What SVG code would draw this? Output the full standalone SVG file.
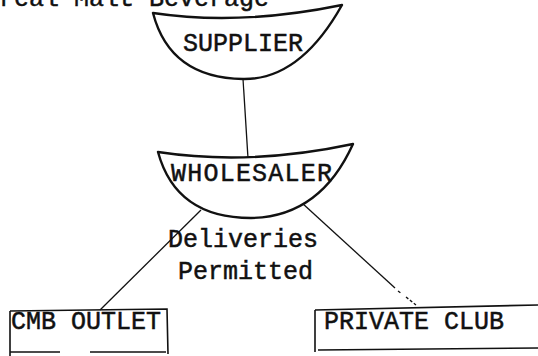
<svg xmlns="http://www.w3.org/2000/svg" width="538" height="356" viewBox="0 0 538 356">
<style>
.t{font-family:"Liberation Mono","Courier New","DejaVu Sans Mono",monospace;font-size:25px;fill:#111;stroke:#111;stroke-width:0.5}
.bowl{fill:#fff;stroke:#111;stroke-width:2.4;stroke-linejoin:round}
.box{fill:none;stroke:#111;stroke-width:1.6}
.ln{fill:none;stroke:#111;stroke-width:1.3}
</style>
<rect width="538" height="356" fill="#fff"/>
<text class="t" x="-1" y="6">real Malt Beverage</text>
<g id="connectors">
<line class="ln" x1="243" y1="79" x2="248" y2="158"/>
<line class="ln" x1="201" y1="210" x2="100" y2="310"/>
<path class="ln" d="M302 203 L395 288" />
<path class="ln" d="M398 291 L402 294 M406 297 L416 305" stroke-dasharray="3 2"/>
</g>
<g id="supplier">
<path class="bowl" d="M153 13 Q240 26 342 5 Q300 80 243 79 Q170 78 153 13 Z"/>
<text class="t" x="183" y="51">SUPPLIER</text>
</g>
<g id="wholesaler">
<path class="bowl" d="M158 152 Q250 166 353 144 Q320 217 251 218 Q176 218 158 152 Z"/>
<text class="t" x="171" y="181" textLength="161">WHOLESALER</text>
</g>
<g id="label">
<text class="t" x="168" y="247">Deliveries</text>
<text class="t" x="178" y="279">Permitted</text>
</g>
<g id="cmb">
<path class="box" d="M10 311 L167 309 L168 354 M10 311 L10 356 M10 352 L60 352 M90 352 L166 352"/>
<text class="t" x="11" y="329">CMB OUTLET</text>
</g>
<g id="private">
<path class="box" d="M315 310 L538 305 M315 310 L315 352 M318 350 L538 348"/>
<text class="t" x="324" y="329">PRIVATE CLUB</text>
</g>
</svg>
